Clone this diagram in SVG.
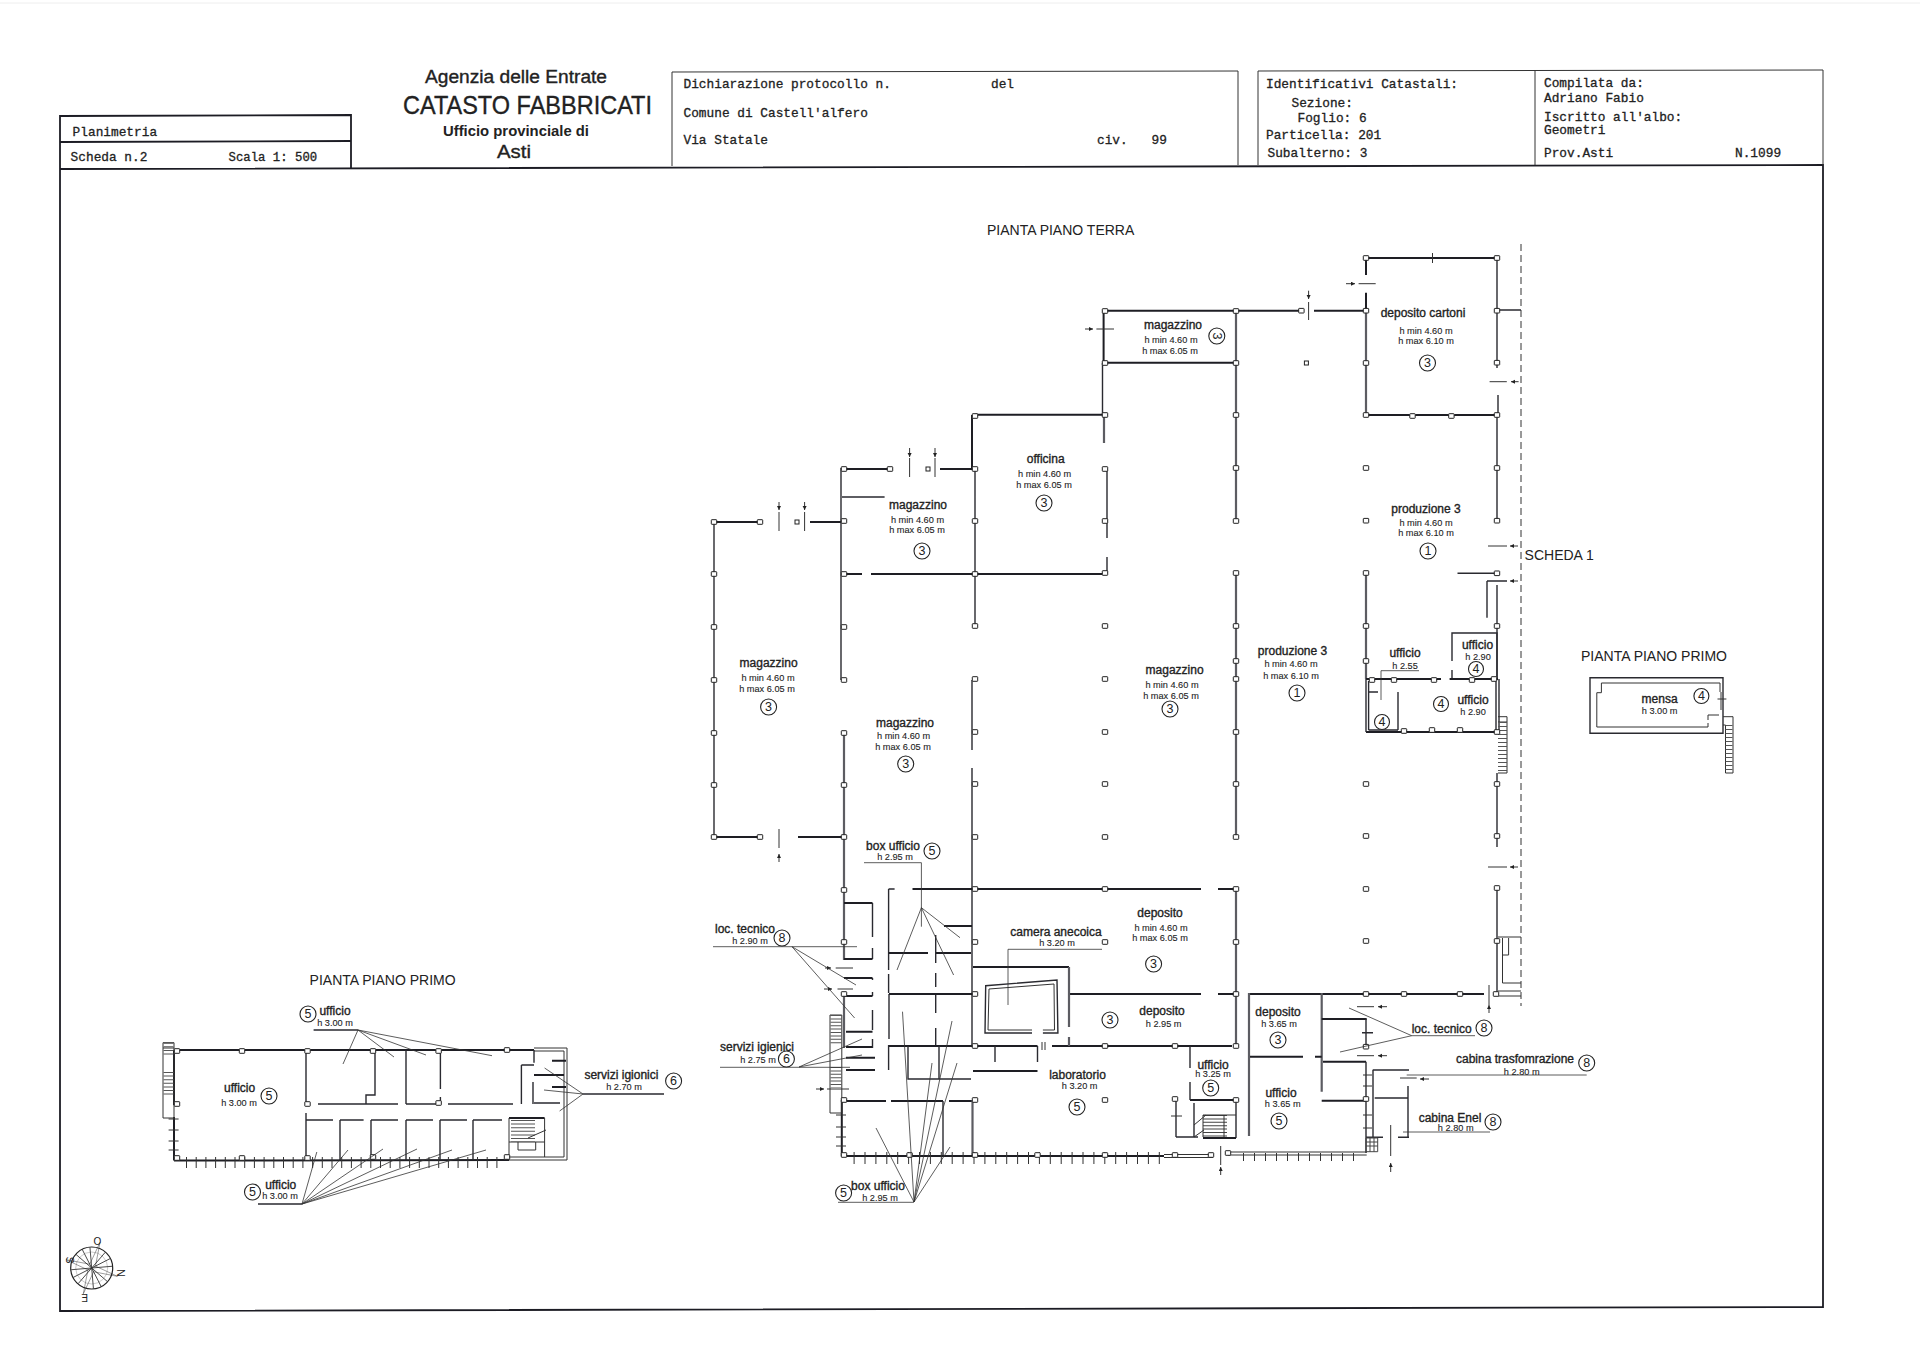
<svg xmlns="http://www.w3.org/2000/svg" width="1920" height="1358" viewBox="0 0 1920 1358">
<style>
text{font-family:"Liberation Sans",Arial,sans-serif;fill:#222}
.hd{stroke:#222;stroke-width:.35}
.c{font-family:"Liberation Mono","Courier New",monospace;font-size:12.8px;stroke:#222;stroke-width:.3}
.tt{font-size:14px;text-anchor:start}
.r{font-size:12px;text-anchor:middle;stroke:#222;stroke-width:.35}
.s{font-size:9.2px;text-anchor:middle;stroke:#222;stroke-width:.1}
.nt{font-size:12.5px;text-anchor:middle}
.n{fill:#fff;stroke:#222;stroke-width:1.1}
path,line,polyline{fill:none}
.f{stroke:#1c1c24;stroke-width:1.8}
.w{stroke:#1e1e24;stroke-width:2}
.m{stroke:#2a2a30;stroke-width:1.4}
.t{stroke:#333;stroke-width:1}
.g{stroke:#5c5c62;stroke-width:2.2}
.l{stroke:#333;stroke-width:.8}
.a{stroke:#333;stroke-width:1;marker-end:url(#tip)}
.k{stroke:#333}
.h{stroke:#444;stroke-width:1;fill:none}
.p{fill:#fff;stroke:#222;stroke-width:1}
</style>
<defs>
<marker id="tip" markerWidth="5" markerHeight="5" refX="4" refY="2" orient="auto" markerUnits="userSpaceOnUse"><path d="M0,0L4,2L0,4Z" style="fill:#222;stroke:none"/></marker>
<rect id="p" x="-2.7" y="-2.3" width="5.4" height="4.6" rx=".5" class="p"/>
</defs>
<rect width="1920" height="1358" fill="#fff"/>
<line x1="0" y1="3" x2="1920" y2="3" stroke="#eee" stroke-width="1"/>

<g id="frame">
<path class="f" d="M60,169L60,1311L1823,1307L1823,165L60,169"/>
<path class="f" d="M60,169V116L351,115V168"/>
<path class="f" d="M60,142L351,141"/>
<path class="t" d="M672,166V72L1238,71V165M1258,165V71L1823,70V165M1535,71V165"/>
</g>

<g id="header">
<text class="hd" x="425" y="83" font-size="18" textLength="182" lengthAdjust="spacingAndGlyphs">Agenzia delle Entrate</text>
<text class="hd" x="403" y="114" font-size="26.5" textLength="249" lengthAdjust="spacingAndGlyphs">CATASTO FABBRICATI</text>
<text x="443" y="136" font-size="15" font-weight="bold" textLength="146" lengthAdjust="spacingAndGlyphs">Ufficio provinciale di</text>
<text class="hd" x="497" y="158" font-size="18" textLength="34" lengthAdjust="spacingAndGlyphs">Asti</text>
<text class="c" x="72.6" y="136">Planimetria</text>
<text class="c" x="70.6" y="161">Scheda n.2</text>
<text class="c" x="228.6" y="161" style="font-size:12.3px">Scala 1: 500</text>
<text class="c" x="683.5" y="88">Dichiarazione protocollo n.</text>
<text class="c" x="991" y="88">del</text>
<text class="c" x="683.5" y="117">Comune di Castell'alfero</text>
<text class="c" x="683.5" y="144">Via Statale</text>
<text class="c" x="1097" y="144">civ.</text>
<text class="c" x="1151.5" y="144">99</text>
<text class="c" x="1266" y="88">Identificativi Catastali:</text>
<text class="c" x="1291.5" y="107">Sezione:</text>
<text class="c" x="1297.5" y="122">Foglio: 6</text>
<text class="c" x="1266" y="139">Particella: 201</text>
<text class="c" x="1267.5" y="157">Subalterno: 3</text>
<text class="c" x="1544" y="87">Compilata da:</text>
<text class="c" x="1544" y="102">Adriano Fabio</text>
<text class="c" x="1544" y="121">Iscritto all'albo:</text>
<text class="c" x="1544" y="134">Geometri</text>
<text class="c" x="1544" y="157">Prov.Asti</text>
<text class="c" x="1735" y="157">N.1099</text>
</g>

<g id="titles">
<text class="tt" x="987" y="235">PIANTA PIANO TERRA</text>
<text class="tt" x="1524.6" y="560">SCHEDA 1</text>
<text class="tt" x="1581" y="661">PIANTA PIANO PRIMO</text>
<text class="tt" x="309.6" y="985">PIANTA PIANO PRIMO</text>
</g>

<g id="ground-floor-walls">
<line class="t" x1="1521" y1="244" x2="1521" y2="1006" stroke-dasharray="7 4"/>
<path class="m" d="M714,521V837"/>
<path class="w" d="M714,522H760M810,522H841M844,469H890M940,469H975M972,415V469M975,414.7H1105M714,837H760M798,837H844"/>
<path class="m" d="M841,468V680M975,469V626M1102.5,363V415M842,497H884.6"/>
<path class="g" d="M844,732V960M844,994V1048M1104,415V443M1236,363V521M1236,573V837M1236,889V1046"/>
<path class="w" d="M844,574H862M871,574H1105"/>
<path class="m" d="M1107,469V538M1107,557V573"/>
<path class="t" d="M779,512V531M804.6,512V531M909.6,458V477M935,458V477M1308.6,302V320M779,829V848"/>
<rect x="795" y="520" width="4" height="4" class="p"/><rect x="926" y="467" width="4" height="4" class="p"/><rect x="1304.4" y="361" width="4" height="4" class="p"/>
<path class="w" d="M1103.6,310.7H1235.7M1103.6,362.7H1235.7M1103.6,310.7V362.7"/>
<path class="g" d="M1236,310.7V362.7"/>
<path class="w" d="M1236,310.7H1301.4M1314,310.7H1366"/>
<path class="w" d="M1366,258H1497M1366,258V275M1366,292.7V310.7M1366,415H1497"/>
<path class="g" d="M1366,310.7V415M1366,573V679"/>
<path class="m" d="M1497,258V368M1497,310H1521M1498,395V415M1497,415V521M1457.5,573.3H1497M1487,581H1507M1487,581V617.7M1497,585V679"/>
<path class="t" d="M1432.5,253V263M1358.6,283.7H1375.7M1489.6,381.7H1506.8M1488,546H1507M1488,867H1507"/>
<path class="m" d="M1452,679V670M1452,661V633H1497V679"/>
<path class="w" d="M1366,679H1441M1449.6,679H1498M1366,732H1498"/>
<path class="m" d="M1366,679V732M1368.6,681V730M1368.6,692H1378M1398,692V730M1368.6,730H1398M1496,679V732M1499,679V732"/>
<path class="t" d="M1498,716.7H1507V773H1498M1498,722H1507"/>
<line x1="1502.5" y1="722" x2="1502.5" y2="773" stroke="#555" stroke-width="9" stroke-dasharray="1 3"/>
<path class="m" d="M1497,773V847M1497,888V993"/>
<path class="t" d="M1498,937H1521M1502.5,938V983H1521M1502.5,955H1508.6V938M1498,991H1521M1498,996H1521"/>
<path class="w" d="M1249,994H1484M975,889H1201M1218,889H1236M1069.6,994H1201M1218,994H1236M973,967H1069M1052,1046H1232M888,1046H1037.5M973,1071H1037.5M1190,1100H1234"/>
<path class="g" d="M1069,967V1027M1069,1037V1046"/>
<path class="m" d="M972,680V750M972,768V1046M995,1046V1062M1037.5,1046V1062M1190,1046V1068M1190,1082V1100M1176,1100V1137M1176,1137H1198M1194,1103V1137M1236,1102V1138"/>
<path class="t" d="M1171,1116H1182M1042,1042V1050M1045,1042V1050"/>
<path class="m" d="M1032,1033H985L985.7,985.7L1057,980L1057.9,1033H1042.9"/>
<path class="t" d="M1032,1030H988L989,989L1054,984L1054.5,1030H1042.9"/>
<path class="w" d="M844,903H872.5M844,959H872.5M844,978H872.5M844,996H872.5M846,1031.7H872.5M846,1047H872.5M846,1057.7H875M846,1070H875"/>
<path class="m" d="M872.5,903V937M872.5,948V959M872.5,978V980M872.5,992V996M872.5,1010V1030M872.5,1039V1048M888.6,889H894.6M888.6,889V970M888.6,974V993M889,994V1039M888.6,1045V1070"/>
<path class="w" d="M912.5,889H975M889,994H975M888.6,953H928M935.7,953H971M944,926H972"/>
<path class="m" d="M908,1046V1079H971M939,1046V1079M935.7,935V963M935.7,973V987M935.7,995V1013M935.7,1028V1045"/>
<path class="t" d="M835.7,968H853M837.5,989H853M827,1089H849"/>
<path class="w" d="M841.8,1100V1156M842,1101H886M891,1101H943M949,1101H972M841,1156H1164"/>
<path class="m" d="M943,1101V1155"/>
<path class="g" d="M972.5,1100V1155"/>
<line class="k" x1="853.6" y1="1158" x2="1166" y2="1158" stroke-width="12" stroke-dasharray="1 9.9"/>
<path class="t" d="M1164,1154.5H1212.5M1164,1157.5H1212.5M1212.5,1154V1158"/>
<path class="t" d="M836,1115H846M836,1127H846M836,1137H846M836,1146H846"/>
<path class="t" d="M830,1015H841.8V1113H830V1015"/>
<line x1="836" y1="1015" x2="836" y2="1045" stroke="#555" stroke-width="11" stroke-dasharray="1 2.4"/>
<line x1="836" y1="1067" x2="836" y2="1088" stroke="#555" stroke-width="11" stroke-dasharray="1 2.4"/>
<line x1="1215" y1="1115" x2="1215" y2="1137" stroke="#444" stroke-width="24" stroke-dasharray="1 2.4"/>
<path class="t" d="M1203,1115H1236M1203,1115V1137M1224,1115V1137M1194,1125L1206,1115M1194,1137L1204,1130"/>
<path class="w" d="M1203,1138H1236"/>
<path class="g" d="M1249,993V1136M1321.7,993V1091.7"/>
<path class="w" d="M1250,1056.7H1303M1315,1056.7H1321.7M1321.7,1019H1366.7M1323,1061.7H1366M1321.7,1100.7H1366"/>
<path class="m" d="M1366,1061.7V1153M1366,1019V1046.7M1362,1032.7H1373M1372.7,1070H1409M1373,1070V1137M1374.7,1098H1408M1408,1086V1137M1398,1137.3H1409M1366.7,1137.3H1383"/>
<path class="t" d="M1363,1075H1372M1363,1086H1372M1363,1115H1372M1363,1128H1372M1400,1078H1416.7M1357,1006.7H1374M1357,1055.7H1374M1220.7,1146V1165M1390.7,1125V1156M1489,985V1005"/>
<path class="t" d="M1228,1152H1366.7M1228,1155H1366.7"/>
<line class="k" x1="1243" y1="1157" x2="1360" y2="1157" stroke-width="8" stroke-dasharray="1 10"/>
<path class="h" d="M1366,1138H1377.7V1151.7H1366ZM1366,1142H1377.7M1366,1146H1377.7M1370,1138V1151.7M1374,1138V1151.7"/>
<line class="a" x1="779" y1="502" x2="779" y2="510"/><line class="a" x1="804.6" y1="502" x2="804.6" y2="510"/>
<line class="a" x1="909.6" y1="448" x2="909.6" y2="457"/><line class="a" x1="935" y1="448" x2="935" y2="457"/>
<line class="a" x1="1308.6" y1="290.7" x2="1308.6" y2="299"/>
<line class="a" x1="1085" y1="329" x2="1093" y2="329"/>
<line class="t" x1="1096.4" y1="329" x2="1114" y2="329"/>
<line class="a" x1="1346" y1="283.7" x2="1355" y2="283.7"/>
<line class="a" x1="1518.6" y1="381.7" x2="1511" y2="381.7"/>
<line class="a" x1="1518" y1="546" x2="1510" y2="546"/>
<line class="a" x1="1518" y1="581" x2="1510" y2="581"/>
<line class="a" x1="1518" y1="867" x2="1510" y2="867"/>
<line class="a" x1="1489" y1="1013" x2="1489" y2="1005"/>
<line class="a" x1="1387" y1="1006.7" x2="1378" y2="1006.7"/>
<line class="a" x1="1387" y1="1055.7" x2="1378" y2="1055.7"/>
<line class="a" x1="1429" y1="1079" x2="1420" y2="1079"/>
<line class="a" x1="1390.7" y1="1172" x2="1390.7" y2="1163"/>
<line class="a" x1="1220.7" y1="1175" x2="1220.7" y2="1167"/>
<line class="a" x1="779" y1="862" x2="779" y2="854"/>
<line class="a" x1="816" y1="1089" x2="824" y2="1089"/>
<line class="a" x1="825" y1="968" x2="831" y2="968"/>
<line class="a" x1="824" y1="989" x2="832" y2="989"/>
</g>

<g id="pillars">
<use href="#p" x="714" y="522"/><use href="#p" x="714" y="574"/><use href="#p" x="714" y="627"/><use href="#p" x="714" y="680"/><use href="#p" x="714" y="733"/><use href="#p" x="714" y="785"/><use href="#p" x="714" y="837"/><use href="#p" x="760" y="522"/><use href="#p" x="760" y="837"/>
<use href="#p" x="844" y="469"/><use href="#p" x="844" y="521"/><use href="#p" x="844" y="574"/><use href="#p" x="844" y="627"/><use href="#p" x="844" y="680"/><use href="#p" x="844" y="733"/><use href="#p" x="844" y="785"/><use href="#p" x="844" y="837"/><use href="#p" x="844" y="890"/><use href="#p" x="844" y="942"/><use href="#p" x="844" y="994"/><use href="#p" x="844" y="1100"/><use href="#p" x="844" y="1155"/><use href="#p" x="890" y="469"/>
<use href="#p" x="975" y="416"/><use href="#p" x="975" y="469"/><use href="#p" x="975" y="521"/><use href="#p" x="975" y="574"/><use href="#p" x="975" y="626"/><use href="#p" x="975" y="679"/><use href="#p" x="975" y="732"/><use href="#p" x="975" y="784"/><use href="#p" x="975" y="837"/><use href="#p" x="975" y="889"/><use href="#p" x="975" y="942"/><use href="#p" x="975" y="994"/><use href="#p" x="975" y="1046"/><use href="#p" x="975" y="1100"/><use href="#p" x="975" y="1155"/>
<use href="#p" x="1105" y="311"/><use href="#p" x="1105" y="363"/><use href="#p" x="1105" y="415"/><use href="#p" x="1105" y="469"/><use href="#p" x="1105" y="521"/><use href="#p" x="1105" y="573"/><use href="#p" x="1105" y="626"/><use href="#p" x="1105" y="679"/><use href="#p" x="1105" y="732"/><use href="#p" x="1105" y="784"/><use href="#p" x="1105" y="837"/><use href="#p" x="1105" y="889"/><use href="#p" x="1105" y="942"/><use href="#p" x="1105" y="1046"/><use href="#p" x="1105" y="1100"/><use href="#p" x="1105" y="1155"/>
<use href="#p" x="1236" y="311"/><use href="#p" x="1236" y="363"/><use href="#p" x="1236" y="415"/><use href="#p" x="1236" y="468"/><use href="#p" x="1236" y="521"/><use href="#p" x="1236" y="573"/><use href="#p" x="1236" y="626"/><use href="#p" x="1236" y="661"/><use href="#p" x="1236" y="679"/><use href="#p" x="1236" y="732"/><use href="#p" x="1236" y="784"/><use href="#p" x="1236" y="837"/><use href="#p" x="1236" y="889"/><use href="#p" x="1236" y="942"/><use href="#p" x="1236" y="994"/><use href="#p" x="1236" y="1046"/><use href="#p" x="1236" y="1100"/>
<use href="#p" x="1175" y="1046"/><use href="#p" x="1175" y="1099"/><use href="#p" x="1175" y="1155"/><use href="#p" x="1037.5" y="1155"/><use href="#p" x="909.6" y="1155"/><use href="#p" x="1211" y="1155"/><use href="#p" x="1228" y="1153"/><use href="#p" x="1301.4" y="310.7"/>
<use href="#p" x="1366" y="258"/><use href="#p" x="1366" y="310.7"/><use href="#p" x="1366" y="363"/><use href="#p" x="1366" y="415"/><use href="#p" x="1366" y="468"/><use href="#p" x="1366" y="520.7"/><use href="#p" x="1366" y="573"/><use href="#p" x="1366" y="626"/><use href="#p" x="1366" y="661"/><use href="#p" x="1366" y="784"/><use href="#p" x="1366" y="836"/><use href="#p" x="1366" y="889"/><use href="#p" x="1366" y="941"/><use href="#p" x="1366" y="994"/><use href="#p" x="1366" y="1046.7"/><use href="#p" x="1366" y="1099"/>
<use href="#p" x="1412.5" y="416"/><use href="#p" x="1451.4" y="416"/><use href="#p" x="1404" y="994"/><use href="#p" x="1460" y="994"/><use href="#p" x="1496" y="994"/>
<use href="#p" x="1497" y="258"/><use href="#p" x="1497" y="310.7"/><use href="#p" x="1497" y="362.7"/><use href="#p" x="1497" y="415"/><use href="#p" x="1497" y="468"/><use href="#p" x="1497" y="520.7"/><use href="#p" x="1497" y="573.3"/><use href="#p" x="1497" y="626"/><use href="#p" x="1497" y="732"/><use href="#p" x="1497" y="784"/><use href="#p" x="1497" y="836"/><use href="#p" x="1497" y="888"/><use href="#p" x="1497" y="941"/>
<use href="#p" x="1372" y="680"/><use href="#p" x="1394" y="680"/><use href="#p" x="1434" y="680"/><use href="#p" x="1472" y="680"/><use href="#p" x="1494" y="679"/><use href="#p" x="1404" y="731"/><use href="#p" x="1432" y="730"/><use href="#p" x="1460" y="730"/>
</g>

<g id="first-floor-east">
<path class="m" d="M1590,677.7H1723V733.3H1590Z"/>
<path class="t" d="M1601.4,692.7V683H1720V692M1601.4,692.7H1596.8V727H1708V723M1708,720V715H1719M1721,692V710M1717.5,699H1726.4"/>
<path class="t" d="M1723,716.7H1733V773H1725.5V725H1723"/>
<line x1="1729" y1="725" x2="1729" y2="773" stroke="#555" stroke-width="7" stroke-dasharray="1 3"/>
</g>

<g id="first-floor-west">
<path class="w" d="M174,1050H534M174,1160.6L509,1160M174,1050V1105M174,1117V1160.6"/>
<path class="t" d="M534,1048H567V1160H509M534,1051H564V1157H509"/>
<path class="t" d="M163,1042.7H174V1118H163ZM163,1048H174"/>
<line x1="168.5" y1="1042.7" x2="168.5" y2="1057" stroke="#555" stroke-width="10" stroke-dasharray="1 2.6"/>
<line x1="168.5" y1="1072" x2="168.5" y2="1097" stroke="#555" stroke-width="10" stroke-dasharray="1 2.6"/>
<line class="k" x1="186" y1="1162.5" x2="498" y2="1162.5" stroke-width="11" stroke-dasharray="1 8.7"/>
<path class="t" d="M168.6,1119H178.6M168.6,1130H178.6M168.6,1141H178.6M168.6,1150H178.6"/>
<path class="m" d="M306,1050V1105M306,1113V1160M375,1050V1095H366V1104M406,1050V1104M440.4,1050V1089M440.4,1097V1104M318,1104H398M406,1104H437.5M448,1104H513"/>
<path class="m" d="M306,1120H333M340,1120H363.6M371,1120H398M406,1120H433M440,1120H467M473,1120H502M340,1120V1160M371,1120V1160M406,1120V1160M440,1120V1160M473,1120V1160"/>
<path class="m" d="M534,1050V1062.7M521.4,1065H534M521.4,1065V1104M533,1082V1104M534,1103H560"/>
<path class="w" d="M552,1060.7H566M552,1087H566M534,1075H564M509,1118H544.6"/>
<path class="t" d="M509,1118V1160M544.6,1118V1157M518,1142V1150H535.7V1142M509,1142H544.6"/>
<line x1="523" y1="1120" x2="523" y2="1142" stroke="#555" stroke-width="24" stroke-dasharray="1 2.6"/>
<path class="t" d="M528,1138L546,1130"/>
<use href="#p" x="177" y="1051"/><use href="#p" x="242" y="1051"/><use href="#p" x="307.5" y="1051"/><use href="#p" x="373" y="1051"/><use href="#p" x="438.6" y="1051"/><use href="#p" x="507" y="1050"/>
<use href="#p" x="177" y="1158"/><use href="#p" x="242" y="1158"/><use href="#p" x="307.5" y="1158"/><use href="#p" x="373" y="1157"/><use href="#p" x="507" y="1157"/>
<use href="#p" x="177" y="1104"/><use href="#p" x="307.5" y="1104"/><use href="#p" x="438.6" y="1103"/>
</g>

<g id="leaders">
<path class="m" d="M313.6,1030H358M258,1204H302M583,1094H664"/>
<path class="l" d="M358,1030L343,1064M358,1030L394,1057M358,1030L426,1055M358,1030L492,1055.7"/>
<path class="l" d="M583,1094L544.6,1068M583,1094L544,1090M583,1094L559.6,1111"/>
<path class="l" d="M302,1204L316.8,1152M302,1204L348,1150M302,1204L383,1149M302,1204L417,1149M302,1204L452,1150M302,1204L486,1150"/>
<path class="l" d="M864,862.7H921.4V926.7M921.4,907.7L897,970M921.4,907.7L953.6,975M921.4,907.7L960,937.7"/>
<path class="l" d="M1008,1005V949.3H1102"/>
<path class="l" d="M713,946.7H857M792,946.7L856,985M792,946.7L854.6,1018"/>
<path class="l" d="M720,1067.3H850M799,1067L862,1039M799,1067L862,1055"/>
<path class="l" d="M838,1202.3H914M914,1202L876,1128M914,1202L902.5,1011.7M914,1202L932,1063M914,1202L952,1021M914,1202L957,1063M914,1202L950,1147"/>
<path class="l" d="M1381,700V670.7H1419"/>
<path class="l" d="M1475,1035.7H1411.7L1349,1008M1411.7,1035.7L1340,1052"/>
<path class="l" d="M1406.7,1075H1586.7M1403,1132H1490"/>
</g>

<g id="labels">
<text class="r" x="1173" y="329">magazzino</text><text class="s" x="1171" y="343">h min 4.60 m</text><text class="s" x="1170" y="354">h max 6.05 m</text>
<text class="r" x="1045.7" y="463">officina</text><text class="s" x="1044.6" y="477">h min 4.60 m</text><text class="s" x="1044" y="488">h max 6.05 m</text>
<text class="r" x="918" y="509">magazzino</text><text class="s" x="917.5" y="523">h min 4.60 m</text><text class="s" x="917" y="533">h max 6.05 m</text>
<text class="r" x="768.6" y="667">magazzino</text><text class="s" x="768" y="681">h min 4.60 m</text><text class="s" x="767" y="692">h max 6.05 m</text>
<text class="r" x="905" y="727">magazzino</text><text class="s" x="903.6" y="739">h min 4.60 m</text><text class="s" x="903" y="750">h max 6.05 m</text>
<text class="r" x="1174.6" y="674">magazzino</text><text class="s" x="1172" y="688">h min 4.60 m</text><text class="s" x="1171" y="699">h max 6.05 m</text>
<text class="r" x="893" y="850">box ufficio</text><text class="s" x="895" y="860">h 2.95 m</text>
<text class="r" x="1160" y="917">deposito</text><text class="s" x="1161" y="931">h min 4.60 m</text><text class="s" x="1160" y="941">h max 6.05 m</text>
<text class="r" x="1056" y="936">camera anecoica</text><text class="s" x="1057" y="946">h 3.20 m</text>
<text class="r" x="1162" y="1015">deposito</text><text class="s" x="1163.6" y="1027">h 2.95 m</text>
<text class="r" x="745" y="933">loc. tecnico</text><text class="s" x="750" y="944">h 2.90 m</text>
<text class="r" x="757" y="1051">servizi igienici</text><text class="s" x="758" y="1063">h 2.75 m</text>
<text class="r" x="1077.5" y="1079">laboratorio</text><text class="s" x="1079.6" y="1089">h 3.20 m</text>
<text class="r" x="1213" y="1069">ufficio</text><text class="s" x="1213" y="1077">h 3.25 m</text>
<text class="r" x="878" y="1190">box ufficio</text><text class="s" x="880" y="1200.7">h 2.95 m</text>
<text class="r" x="1423" y="317">deposito cartoni</text><text class="s" x="1426" y="334">h min 4.60 m</text><text class="s" x="1426" y="344">h max 6.10 m</text>
<text class="r" x="1426" y="513">produzione 3</text><text class="s" x="1426" y="526">h min 4.60 m</text><text class="s" x="1426" y="536">h max 6.10 m</text>
<text class="r" x="1292.5" y="655">produzione 3</text><text class="s" x="1291" y="667">h min 4.60 m</text><text class="s" x="1291" y="679">h max 6.10 m</text>
<text class="r" x="1405" y="657">ufficio</text><text class="s" x="1405" y="669">h 2.55</text>
<text class="r" x="1477.5" y="649">ufficio</text><text class="s" x="1478" y="660">h 2.90</text>
<text class="r" x="1473" y="704">ufficio</text><text class="s" x="1473" y="715">h 2.90</text>
<text class="r" x="1659.6" y="703">mensa</text><text class="s" x="1659.6" y="714">h 3.00 m</text>
<text class="r" x="1278" y="1016">deposito</text><text class="s" x="1279" y="1027">h 3.65 m</text>
<text class="r" x="1441.7" y="1033">loc. tecnico</text>
<text class="r" x="1515" y="1063">cabina trasfomrazione</text><text class="s" x="1521.7" y="1074.5">h 2.80 m</text>
<text class="r" x="1450" y="1122">cabina Enel</text><text class="s" x="1455.7" y="1130.5">h 2.80 m</text>
<text class="r" x="1281" y="1096.7">ufficio</text><text class="s" x="1282.7" y="1107">h 3.65 m</text>
<text class="r" x="335" y="1015">ufficio</text><text class="s" x="335" y="1026">h 3.00 m</text>
<text class="r" x="239.6" y="1092">ufficio</text><text class="s" x="239" y="1106">h 3.00 m</text>
<text class="r" x="621.4" y="1079">servizi igionici</text><text class="s" x="624" y="1090">h 2.70 m</text>
<text class="r" x="280.7" y="1189">ufficio</text><text class="s" x="280" y="1199">h 3.00 m</text>
</g>

<g id="unit-numbers">
<g transform="rotate(90 1216.8 336)"><circle class="n" cx="1216.8" cy="336" r="8"/><text class="nt" x="1216.8" y="340.3">3</text></g>
<circle class="n" cx="1044" cy="503" r="8"/><text class="nt" x="1044" y="507.3">3</text>
<circle class="n" cx="922" cy="551" r="8"/><text class="nt" x="922" y="555.3">3</text>
<circle class="n" cx="768.6" cy="707" r="8"/><text class="nt" x="768.6" y="711.3">3</text>
<circle class="n" cx="905.7" cy="764" r="8"/><text class="nt" x="905.7" y="768.3">3</text>
<circle class="n" cx="1170" cy="709" r="8"/><text class="nt" x="1170" y="713.3">3</text>
<circle class="n" cx="932" cy="851" r="8"/><text class="nt" x="932" y="855.3">5</text>
<circle class="n" cx="1153.6" cy="964" r="8"/><text class="nt" x="1153.6" y="968.3">3</text>
<circle class="n" cx="1110" cy="1020" r="8"/><text class="nt" x="1110" y="1024.3">3</text>
<circle class="n" cx="782" cy="938" r="8"/><text class="nt" x="782" y="942.3">8</text>
<circle class="n" cx="786.4" cy="1059" r="8"/><text class="nt" x="786.4" y="1063.3">6</text>
<circle class="n" cx="1077" cy="1107" r="8"/><text class="nt" x="1077" y="1111.3">5</text>
<circle class="n" cx="1210.7" cy="1088" r="8"/><text class="nt" x="1210.7" y="1092.3">5</text>
<circle class="n" cx="843.6" cy="1193" r="8"/><text class="nt" x="843.6" y="1197.3">5</text>
<circle class="n" cx="1427.5" cy="363" r="8"/><text class="nt" x="1427.5" y="367.3">3</text>
<circle class="n" cx="1428" cy="551" r="8"/><text class="nt" x="1428" y="555.3">1</text>
<circle class="n" cx="1297" cy="693" r="8"/><text class="nt" x="1297" y="697.3">1</text>
<circle class="n" cx="1476" cy="669" r="7.5"/><text class="nt" x="1476" y="673.3">4</text>
<circle class="n" cx="1382" cy="722" r="7.5"/><text class="nt" x="1382" y="726.3">4</text>
<circle class="n" cx="1441" cy="704" r="7.5"/><text class="nt" x="1441" y="708.3">4</text>
<circle class="n" cx="1701.4" cy="696" r="7.5"/><text class="nt" x="1701.4" y="700.3">4</text>
<circle class="n" cx="1278" cy="1040" r="8"/><text class="nt" x="1278" y="1044.3">3</text>
<circle class="n" cx="1484" cy="1028" r="8"/><text class="nt" x="1484" y="1032.3">8</text>
<circle class="n" cx="1586.7" cy="1063" r="8"/><text class="nt" x="1586.7" y="1067.3">8</text>
<circle class="n" cx="1493" cy="1122" r="8"/><text class="nt" x="1493" y="1126.3">8</text>
<circle class="n" cx="1279" cy="1121" r="8"/><text class="nt" x="1279" y="1125.3">5</text>
<circle class="n" cx="308" cy="1014" r="8"/><text class="nt" x="308" y="1018.3">5</text>
<circle class="n" cx="269" cy="1096" r="8"/><text class="nt" x="269" y="1100.3">5</text>
<circle class="n" cx="673.6" cy="1081" r="8"/><text class="nt" x="673.6" y="1085.3">6</text>
<circle class="n" cx="252.5" cy="1192" r="8"/><text class="nt" x="252.5" y="1196.3">5</text>
</g>

<g id="compass" transform="translate(91.7 1268)">
<circle r="21" fill="none" stroke="#222" stroke-width="1.2"/><circle r="16" fill="none" stroke="#aaa" stroke-width=".6"/>
<g transform="rotate(18)">
<path class="l" d="M-15,-15L15,15M-15,15L15,-15M-8,-19L8,19M8,-19L-8,19M-19,-8L19,8M-19,8L19,-8"/>
<path d="M0,-27L3,-3L27,0L3,3L0,27L-3,3L-27,0L-3,-3Z" fill="#555" stroke="#222" stroke-width=".4"/>
<path d="M0,-27L-3,-3L0,0ZM27,0L3,-3L0,0ZM0,27L3,3L0,0ZM-27,0L-3,3L0,0Z" fill="#ddd"/>
</g>
<text x="5.6" y="-23" font-size="10" text-anchor="middle">O</text>
<text transform="translate(-26 -8) rotate(90)" font-size="10" text-anchor="middle">S</text>
<text transform="translate(25 5) rotate(90)" font-size="11" text-anchor="middle">N</text>
<text transform="translate(-7 26) rotate(180)" font-size="10" text-anchor="middle">E</text>
</g>
</svg>
